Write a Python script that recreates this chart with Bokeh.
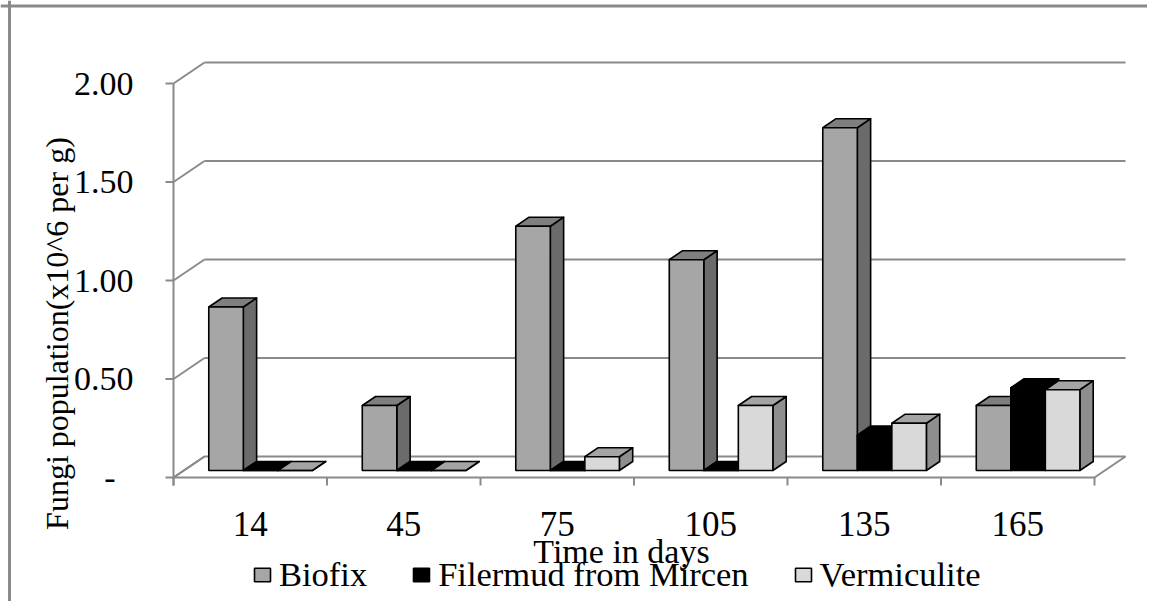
import numpy as np
from bokeh.plotting import figure
from bokeh.models import Range1d, Span, Legend, LegendItem
from bokeh.core.properties import value
from bokeh.embed import file_html
from bokeh.resources import INLINE

# ---------------- data ----------------
days = ["14", "45", "75", "105", "135", "165"]
series_names = ["Biofix", "Filermud from Mircen", "Vermiculite"]
biofix = [0.83, 0.33, 1.24, 1.07, 1.74, 0.33]
filermud = [0.0, 0.0, 0.0, 0.0, 0.18, 0.42]
vermiculite = [0.0, 0.0, 0.07, 0.33, 0.24, 0.41]
y_ticks = [0.0, 0.5, 1.0, 1.5, 2.0]
y_tick_labels = ["-", "0.50", "1.00", "1.50", "2.00"]
x_title = "Time in days"
y_title = "Fungi population(x10^6 per g)"

# ---------------- styles ----------------
front_colors = ["#a6a6a6", "#000000", "#d9d9d9"]
side_colors = ["#6b6b6b", "#000000", "#8e8e8e"]
top_colors = ["#7f7f7f", "#000000", "#a4a4a4"]
GRID = "#8a8a8a"
FONT = "'Liberation Serif', 'Times New Roman', serif"

W, H = 1147, 601
PX_X, PX_Y = 153.5, 197.0      # pixels per category / per unit value
X0, Y0 = 173.0, 477.0          # canvas pixel of the front-floor origin


def ux(px):
    return px / PX_X


def uy(px):
    return px / PX_Y


DX, DY = ux(31), uy(21)        # full depth offset of the 3-D box
F1 = 0.333                     # depth at which the bars' front face sits
FD = 0.43                      # depth of a bar
BW = 0.225                     # bar width (category units)

p = figure(width=W, height=H,
           x_range=Range1d(-X0 / PX_X, (W - X0) / PX_X),
           y_range=Range1d((Y0 - H) / PX_Y, Y0 / PX_Y),
           output_backend="svg", toolbar_location=None, min_border=0,
           outline_line_color=None, background_fill_color="white",
           border_fill_color="white")
p.axis.visible = False
p.grid.visible = False

n = len(days)
xr = p.x_range
yr = p.y_range

# outer chart border (left and top)
p.add_layout(Span(location=xr.start + ux(9), dimension="height",
                  line_color=GRID, line_width=3))
p.add_layout(Span(location=yr.end - uy(5.5), dimension="width",
                  line_color=GRID, line_width=3))

# floor
p.patch([0, n, n + DX, DX], [0, 0, DY, DY], fill_color="white",
        line_color=GRID, line_width=2)
# back wall gridlines
p.multi_line([[DX, n + DX] for t in y_ticks[1:]],
             [[t + DY, t + DY] for t in y_ticks[1:]],
             line_color=GRID, line_width=2)
# side wall diagonals
p.multi_line([[0, DX] for t in y_ticks], [[t, t + DY] for t in y_ticks],
             line_color=GRID, line_width=2)
# front value axis
p.segment(x0=[0], y0=[-uy(8)], x1=[0], y1=[y_ticks[-1]],
          line_color=GRID, line_width=2)
p.segment(x0=[-ux(8)] * len(y_ticks), y0=y_ticks, x1=[0] * len(y_ticks),
          y1=y_ticks, line_color=GRID, line_width=2)
# category axis ticks
bounds = list(range(n + 1))
p.segment(x0=bounds, y0=[0] * len(bounds), x1=bounds,
          y1=[-uy(8)] * len(bounds), line_color=GRID, line_width=2)

# bars
all_series = [biofix, filermud, vermiculite]
base = F1 * DY
legend_items = []
for s, vals in enumerate(all_series):
    vals = np.array(vals, dtype=float)
    left = np.arange(n) + 0.5 - 1.5 * BW + s * BW + F1 * DX
    right = left + BW
    top = vals + base
    ddx, ddy = FD * DX, FD * DY
    side_xs = [[r, r + ddx, r + ddx, r] for r in right]
    side_ys = [[base, base + ddy, t + ddy, t] for t in top]
    p.patches(side_xs, side_ys, fill_color=side_colors[s], line_color="black",
              line_width=1.6, line_join="round")
    top_xs = [[l, r, r + ddx, l + ddx] for l, r in zip(left, right)]
    top_ys = [[t, t, t + ddy, t + ddy] for t in top]
    p.patches(top_xs, top_ys, fill_color=top_colors[s], line_color="black",
              line_width=1.6, line_join="round")
    fr = p.quad(left=left, right=right, bottom=[base] * n, top=top,
                fill_color=front_colors[s], line_color="black", line_width=1.6)
    legend_items.append(LegendItem(label=series_names[s], renderers=[fr]))

# y tick labels
num_x = [(-ux(40) if lab != "-" else -ux(58)) for lab in y_tick_labels]
p.text(x=num_x, y=y_ticks, text=y_tick_labels, text_font=value(FONT),
       text_font_size=value("34px"), text_align="right",
       text_baseline="middle", text_color="black")
# x tick labels
p.text(x=list(np.arange(n) + 0.5), y=[-uy(46)] * n, text=days,
       text_font=value(FONT), text_font_size=value("35px"),
       text_align="center", text_baseline="middle", text_color="black")
# axis titles
p.text(x=[ux(621 - 173)], y=[-uy(74)], text=[x_title], text_font=value(FONT),
       text_font_size=value("34px"), text_align="center",
       text_baseline="alphabetic", text_color="black")
p.text(x=[-ux(173 - 56)], y=[uy(477 - 333)], text=[y_title], angle=np.pi / 2,
       text_font=value(FONT), text_font_size=value("32px"),
       text_align="center", text_baseline="alphabetic", text_color="black")

legend = Legend(items=legend_items, orientation="horizontal",
                location=(252, 7), label_text_font=FONT,
                label_text_font_size="34.5px", label_text_color="black",
                glyph_width=20, glyph_height=17, label_height=17,
                label_standoff=7, spacing=44, padding=0, margin=0,
                border_line_color=None, background_fill_alpha=0)
p.add_layout(legend)

open("out.html", "w").write(file_html(p, INLINE))
